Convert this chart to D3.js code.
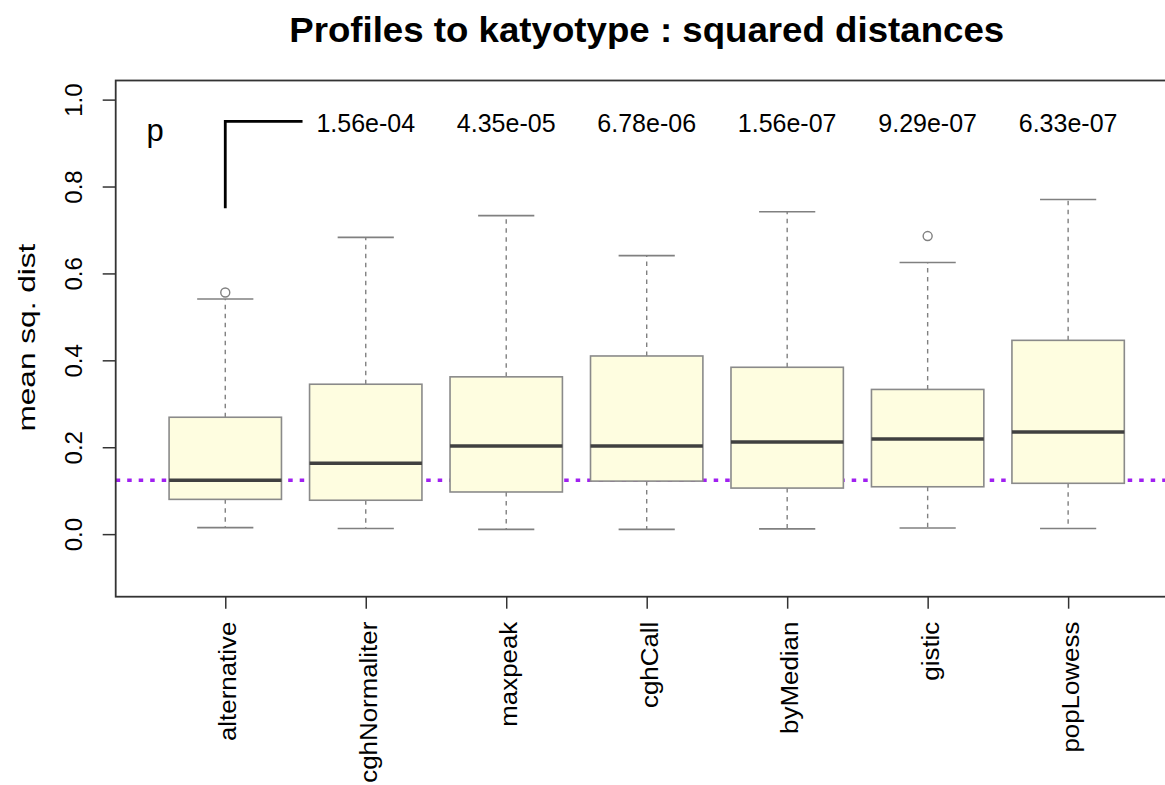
<!DOCTYPE html>
<html>
<head>
<meta charset="utf-8">
<script src="https://cdn.jsdelivr.net/npm/d3@7"></script>
<style>
  body { margin: 0; background: #fff; }
  svg text { font-family: "Liberation Sans", Arial, Helvetica, sans-serif; fill: #000; }
</style>
</head>
<body>
<div id="chart"></div>
<script>
// box statistics
const categories = ['alternative', 'cghNormaliter', 'maxpeak', 'cghCall', 'byMedian', 'gistic', 'popLowess'];
const whiskerLow = [0.015, 0.013, 0.011, 0.011, 0.012, 0.014, 0.013];
const q1 = [0.080, 0.078, 0.097, 0.122, 0.106, 0.109, 0.117];
const median = [0.124, 0.163, 0.203, 0.203, 0.212, 0.219, 0.235];
const q3 = [0.269, 0.345, 0.362, 0.410, 0.384, 0.333, 0.446];
const whiskerHigh = [0.541, 0.683, 0.733, 0.641, 0.742, 0.625, 0.770];
const outlierGroup = ['alternative', 'gistic'];
const outlierValue = [0.556, 0.686];

// p-values written above boxes 2..7
const pValues = ['1.56e-04', '4.35e-05', '6.78e-06', '1.56e-07', '9.29e-07', '6.33e-07'];
const bracketX = [1, 1, 1.55];
const bracketY = [0.75, 0.95, 0.95];

const yTicks = [0, 0.2, 0.4, 0.6, 0.8, 1.0];

class BoxChart {
    constructor(config) {
        this.config = {
            parentElement: config.parentElement,
            containerWidth: 1165,
            containerHeight: 785,
            plot: { left: 115.7, right: 1177.7, top: 80.5, bottom: 596.7 },
            boxWidth: 0.8,
            capWidth: 0.4
        };
        this.initVis();
    }

    initVis() {
        let vis = this;
        const p = vis.config.plot;

        // R style xlim/ylim with the 4% extension
        vis.xScale = d3.scaleLinear()
            .domain([0.22, 7.78])
            .range([p.left, p.right]);

        vis.yScale = d3.scaleLinear()
            .domain([-0.144, 1.044])
            .range([p.bottom, p.top]);

        vis.svg = d3.select(vis.config.parentElement)
            .append('svg')
            .attr('width', vis.config.containerWidth)
            .attr('height', vis.config.containerHeight);

        vis.chart = vis.svg.append('g');

        vis.title = vis.svg.append('text')
            .attr('x', (p.left + p.right) / 2)
            .attr('y', 42)
            .attr('text-anchor', 'middle')
            .style('font-size', '35px')
            .style('font-weight', 'bold')
            .attr('textLength', 715)
            .attr('lengthAdjust', 'spacingAndGlyphs')
            .text('Profiles to katyotype : squared distances');

        vis.svg.append('text')
            .attr('transform', `translate(35, ${(p.top + p.bottom) / 2 - 1}) rotate(-90)`)
            .attr('text-anchor', 'middle')
            .style('font-size', '24px')
            .attr('textLength', 188)
            .attr('lengthAdjust', 'spacingAndGlyphs')
            .text('mean sq. dist');

        vis.xAxisG = vis.svg.append('g')
            .attr('class', 'axis x-axis')
            .attr('transform', `translate(0, ${p.bottom})`);

        vis.yAxisG = vis.svg.append('g')
            .attr('class', 'axis y-axis')
            .attr('transform', `translate(${p.left}, 0)`);

        vis.updateVis();
    }

    updateVis() {
        let vis = this;
        vis.boxes = categories.map((c, i) => ({
            name: c,
            pos: i + 1,
            lo: whiskerLow[i],
            q1: q1[i],
            med: median[i],
            q3: q3[i],
            hi: whiskerHigh[i]
        }));
        vis.outliers = outlierGroup.map((g, i) => ({ pos: categories.indexOf(g) + 1, value: outlierValue[i] }));
        vis.refLine = median[0];
        vis.renderVis();
    }

    renderVis() {
        let vis = this;
        const x = vis.xScale, y = vis.yScale;
        const hw = vis.config.boxWidth / 2, cw = vis.config.capWidth / 2;
        const [x0, x1] = x.range();

        // purple dotted reference line at the alternative median (under the boxes)
        vis.chart.append('line')
            .attr('x1', x0).attr('x2', x1)
            .attr('y1', y(vis.refLine)).attr('y2', y(vis.refLine))
            .attr('stroke', '#a020f0')
            .attr('stroke-width', 3.5)
            .attr('stroke-dasharray', '4.5,7');

        const g = vis.chart.selectAll('.box')
            .data(vis.boxes)
            .join('g')
            .attr('class', 'box');

        // dashed whiskers
        g.append('line')
            .attr('x1', d => x(d.pos)).attr('x2', d => x(d.pos))
            .attr('y1', d => y(d.q3)).attr('y2', d => y(d.hi))
            .attr('stroke', '#808080').attr('stroke-width', 1.4)
            .attr('stroke-dasharray', '4.5,4.5');
        g.append('line')
            .attr('x1', d => x(d.pos)).attr('x2', d => x(d.pos))
            .attr('y1', d => y(d.q1)).attr('y2', d => y(d.lo))
            .attr('stroke', '#808080').attr('stroke-width', 1.4)
            .attr('stroke-dasharray', '4.5,4.5');

        // caps
        ['lo', 'hi'].forEach(k => {
            g.append('line')
                .attr('x1', d => x(d.pos - cw)).attr('x2', d => x(d.pos + cw))
                .attr('y1', d => y(d[k])).attr('y2', d => y(d[k]))
                .attr('stroke', '#808080').attr('stroke-width', 1.6);
        });

        g.append('rect')
            .attr('x', d => x(d.pos - hw))
            .attr('width', d => x(d.pos + hw) - x(d.pos - hw))
            .attr('y', d => y(d.q3))
            .attr('height', d => y(d.q1) - y(d.q3))
            .attr('fill', '#fefde0')
            .attr('stroke', '#8a8a8a')
            .attr('stroke-width', 1.6);

        g.append('line')
            .attr('x1', d => x(d.pos - hw)).attr('x2', d => x(d.pos + hw))
            .attr('y1', d => y(d.med)).attr('y2', d => y(d.med))
            .attr('stroke', '#404040').attr('stroke-width', 3.5);

        vis.chart.selectAll('.outlier')
            .data(vis.outliers)
            .join('circle')
            .attr('class', 'outlier')
            .attr('cx', d => x(d.pos))
            .attr('cy', d => y(d.value))
            .attr('r', 4.5)
            .attr('fill', 'none')
            .attr('stroke', '#808080')
            .attr('stroke-width', 1.4);

        // bracket and p-values
        vis.chart.append('path')
            .attr('d', d3.line().x(d => x(d[0])).y(d => y(d[1]))(bracketX.map((v, i) => [v, bracketY[i]])))
            .attr('fill', 'none')
            .attr('stroke', '#000')
            .attr('stroke-width', 2.8);

        vis.chart.append('text')
            .attr('x', x(0.5))
            .attr('y', y(0.93) + 11)
            .attr('text-anchor', 'middle')
            .style('font-size', '31px')
            .text('p');

        vis.chart.selectAll('.pval')
            .data(pValues)
            .join('text')
            .attr('class', 'pval')
            .attr('x', (d, i) => x(i + 2))
            .attr('y', y(0.95) + 11)
            .attr('text-anchor', 'middle')
            .style('font-size', '25px')
            .text(d => d);

        // frame
        vis.chart.append('rect')
            .attr('x', x0).attr('y', y.range()[1])
            .attr('width', x1 - x0).attr('height', y.range()[0] - y.range()[1])
            .attr('fill', 'none')
            .attr('stroke', '#333')
            .attr('stroke-width', 1.8);

        vis.xAxis = d3.axisBottom(x)
            .tickValues(d3.range(1, categories.length + 1))
            .tickFormat(d => categories[d - 1])
            .tickSize(12);

        vis.yAxis = d3.axisLeft(y)
            .tickValues(yTicks)
            .tickFormat(d3.format('.1f'))
            .tickSize(13);

        vis.xAxisG.call(vis.xAxis)
            .call(g => g.select('.domain').remove());
        vis.xAxisG.selectAll('.tick line').attr('stroke', '#333').attr('stroke-width', 1.5);
        vis.xAxisG.selectAll('.tick text')
            .attr('transform', 'rotate(-90)')
            .attr('x', -25)
            .attr('y', 10.5)
            .attr('dy', null)
            .attr('text-anchor', 'end')
            .attr('fill', '#000')
            .style('font-size', '23px')
            .attr('font-family', null)
            .each(function () {
                const len = this.getComputedTextLength();
                d3.select(this).attr('textLength', len * 1.125).attr('lengthAdjust', 'spacingAndGlyphs');
            });

        vis.yAxisG.call(vis.yAxis)
            .call(g => g.select('.domain').remove());
        vis.yAxisG.selectAll('.tick line').attr('stroke', '#333').attr('stroke-width', 1.5);
        vis.yAxisG.selectAll('.tick text')
            .attr('transform', 'rotate(-90)')
            .attr('x', 0)
            .attr('y', -34)
            .attr('dy', null)
            .attr('text-anchor', 'middle')
            .attr('fill', '#000')
            .style('font-size', '24px')
            .attr('font-family', null);
    }
}

new BoxChart({ parentElement: '#chart' });
</script>
</body>
</html>
